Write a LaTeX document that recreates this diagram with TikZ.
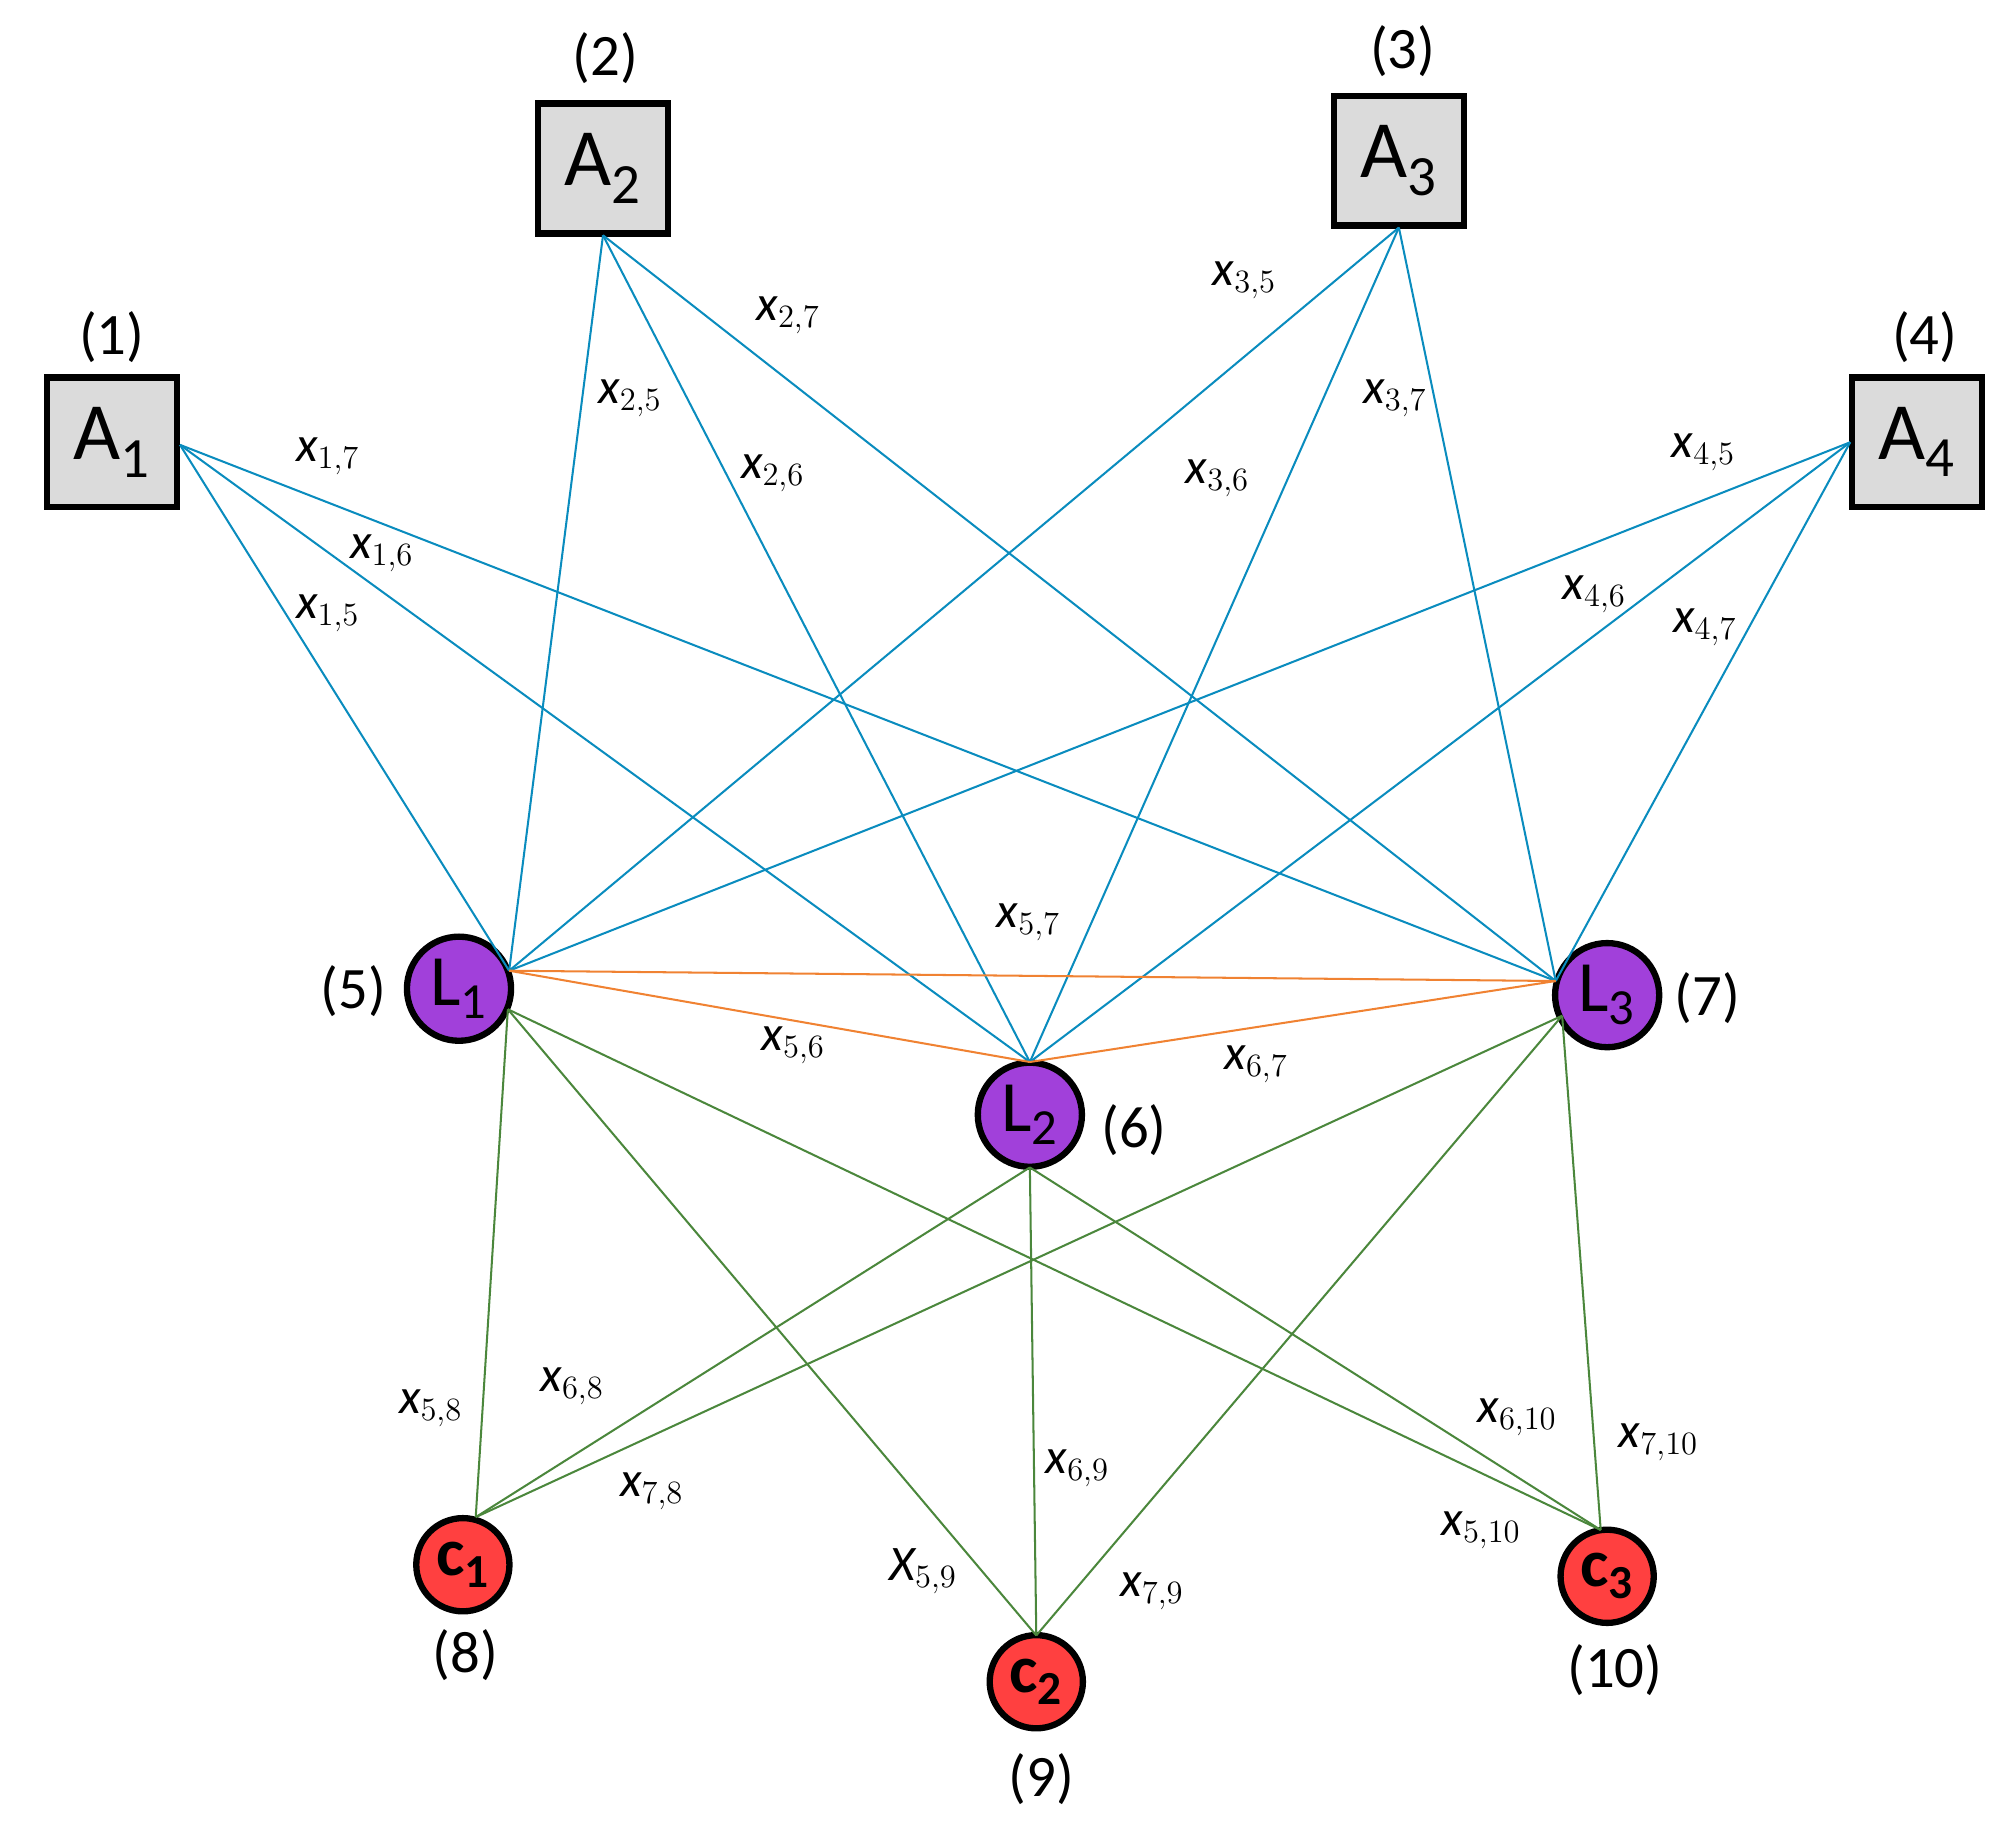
\documentclass[tikz,border=0pt]{standalone}
\usepackage{fontspec}
\setmainfont{Carlito}
\begin{document}
\begin{tikzpicture}[x=0.02cm,y=-0.02cm,
 box/.style={draw=black,line width=2.8pt,fill=gray!28,minimum size=2.02cm,inner sep=0pt,font=\fontsize{36}{40}\selectfont},
 lnode/.style={circle,draw=black,line width=2.8pt,fill=violet!55!magenta!70!blue!75,minimum size=1.62cm,inner sep=0pt,font=\fontsize{32}{36}\selectfont},
 cnode/.style={circle,draw=black,line width=2.8pt,fill=red!75!white,minimum size=1.45cm,inner sep=0pt,font=\bfseries\fontsize{30}{34}\selectfont},
 num/.style={font=\fontsize{26}{30}\selectfont},
 lab/.style={font=\itshape\fontsize{22}{26}\selectfont},
 bl/.style={draw={rgb,255:red,10;green,140;blue,190},line width=0.9pt},
 or/.style={draw={rgb,255:red,240;green,130;blue,50},line width=0.9pt},
 gr/.style={draw={rgb,255:red,75;green,135;blue,60},line width=0.9pt}]
\useasboundingbox (0,0) rectangle (1568,1436);
\node[box] (A1) at (87,344) {A$_{\mathrm{1}}$};
\node[box] (A2) at (469,131) {A$_{\mathrm{2}}$};
\node[box] (A3) at (1088,125) {A$_{\mathrm{3}}$};
\node[box] (A4) at (1491,344) {A$_{\mathrm{4}}$};
\node[lnode] (L1) at (357,769) {L$_{\mathrm{1}}$};
\node[lnode] (L2) at (801,867) {L$_{\mathrm{2}}$};
\node[lnode] (L3) at (1250,774) {L$_{\mathrm{3}}$};
\node[cnode] (C1) at (360,1217) {c$_{\mathbf{1}}$};
\node[cnode] (C2) at (806,1308) {c$_{\mathbf{2}}$};
\node[cnode] (C3) at (1250,1226) {c$_{\mathbf{3}}$};
\node[num] (n1) at (87,262) {(1)};
\node[num] (n2) at (471,45) {(2)};
\node[num] (n3) at (1091,40) {(3)};
\node[num] (n4) at (1497,262) {(4)};
\node[num] (n5) at (275,771) {(5)};
\node[num] (n6) at (882,879) {(6)};
\node[num] (n7) at (1328,776) {(7)};
\node[num] (n8) at (362,1287) {(8)};
\node[num] (n9) at (810,1384) {(9)};
\node[num] (n10) at (1256,1299) {(10)};
% endpoints
\coordinate (a1) at (140,346);
\coordinate (a2) at (469,183);
\coordinate (a3) at (1088,177);
\coordinate (a4) at (1439,344);
\coordinate (l1t) at (396,755);
\coordinate (l2t) at (801,826);
\coordinate (l3t) at (1210,763);
\coordinate (l1b) at (395,785);
\coordinate (l2b) at (801,908);
\coordinate (l3b) at (1215,790);
\coordinate (c1t) at (370,1180);
\coordinate (c2t) at (806,1272);
\coordinate (c3t) at (1245,1190);
\foreach \a in {a1,a2,a3,a4}{
 \draw[bl] (\a) -- (l1t); \draw[bl] (\a) -- (l2t); \draw[bl] (\a) -- (l3t);}
\draw[or] (l1t) -- (l3t);
\draw[or] (l1t) -- (l2t);
\draw[or] (l2t) -- (l3t);
\foreach \l in {l1b,l2b,l3b}{
 \draw[gr] (\l) -- (c1t); \draw[gr] (\l) -- (c2t); \draw[gr] (\l) -- (c3t);}
% labels
\node[lab] at (255,355) {x$_{1,7}$};
\node[lab] at (297,430) {x$_{1,6}$};
\node[lab] at (255,477) {x$_{1,5}$};
\node[lab] at (490,310) {x$_{2,5}$};
\node[lab] at (601,368) {x$_{2,6}$};
\node[lab] at (613,245) {x$_{2,7}$};
\node[lab] at (968,218) {x$_{3,5}$};
\node[lab] at (947,372) {x$_{3,6}$};
\node[lab] at (1085,310) {x$_{3,7}$};
\node[lab] at (1325,352) {x$_{4,5}$};
\node[lab] at (1240,462) {x$_{4,6}$};
\node[lab] at (1326,488) {x$_{4,7}$};
\node[lab] at (800,717) {x$_{5,7}$};
\node[lab] at (617,813) {x$_{5,6}$};
\node[lab] at (977,828) {x$_{6,7}$};
\node[lab] at (335,1095) {x$_{5,8}$};
\node[lab] at (445,1078) {x$_{6,8}$};
\node[lab] at (507,1160) {x$_{7,8}$};
\node[lab] at (718,1222) {X$_{5,9}$};
\node[lab] at (838,1142) {x$_{6,9}$};
\node[lab] at (896,1238) {x$_{7,9}$};
\node[lab] at (1180,1102) {x$_{6,10}$};
\node[lab] at (1290,1122) {x$_{7,10}$};
\node[lab] at (1152,1190) {x$_{5,10}$};
\end{tikzpicture}
\end{document}
